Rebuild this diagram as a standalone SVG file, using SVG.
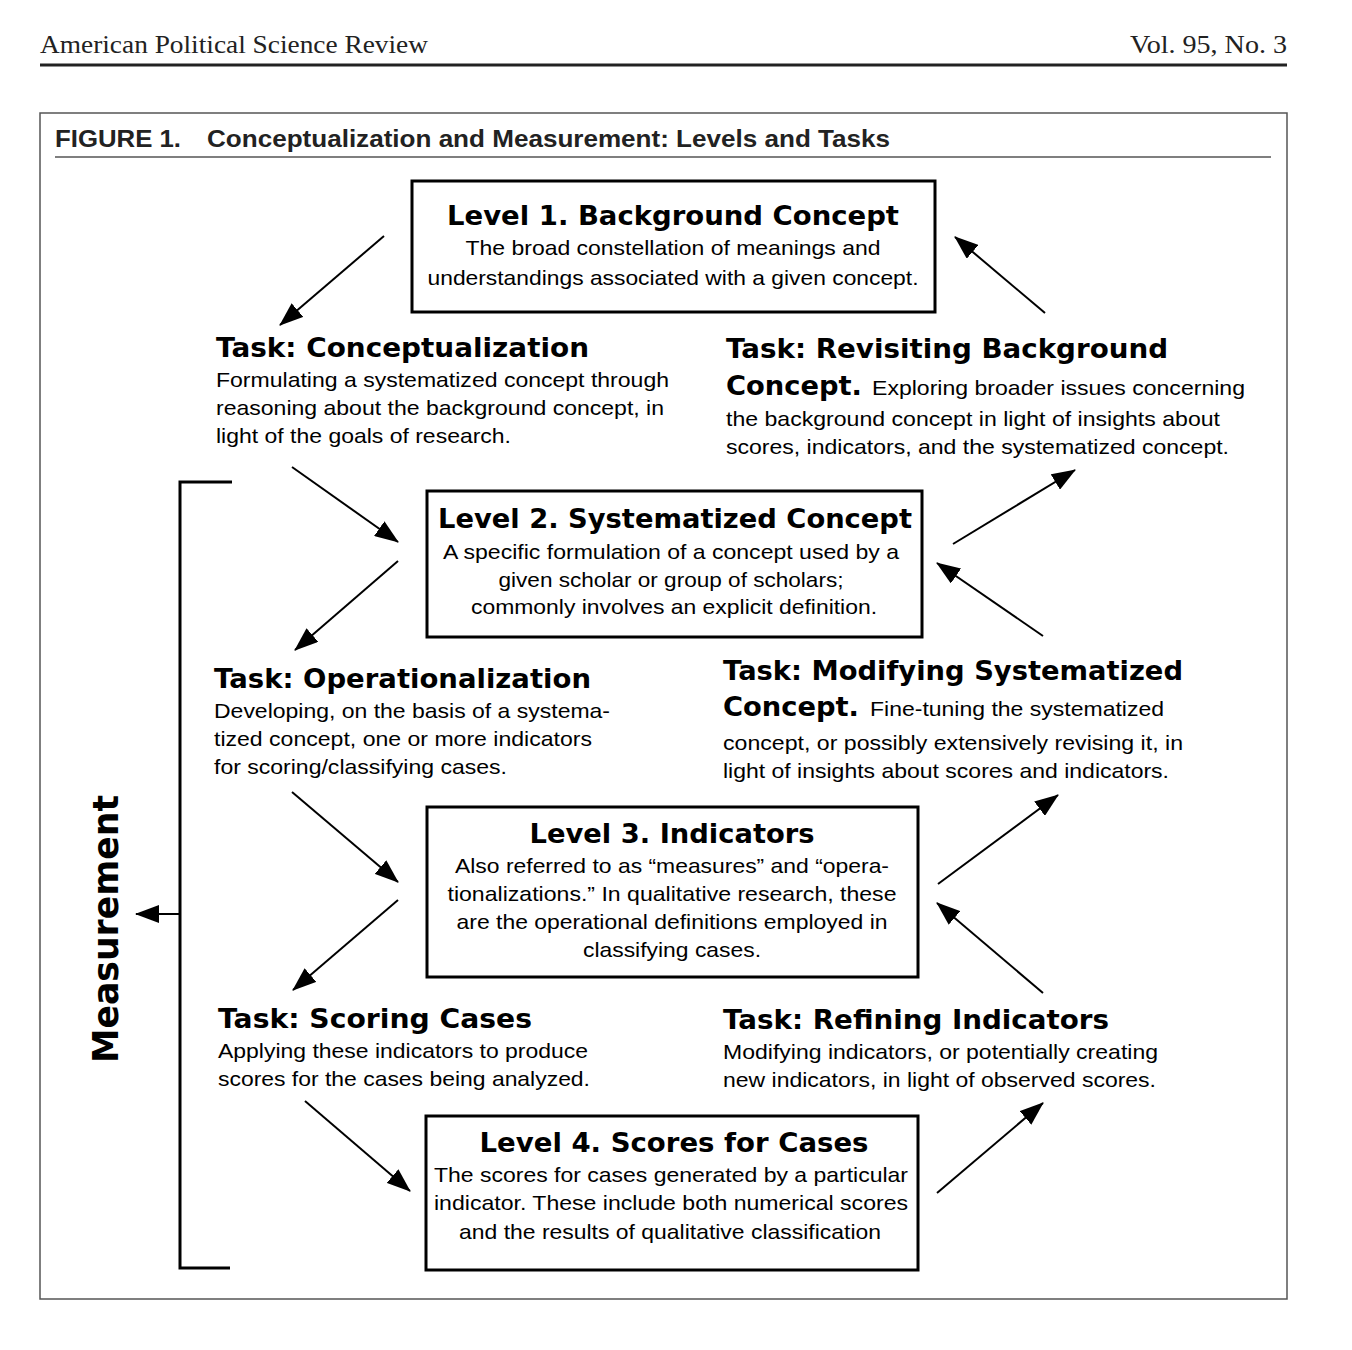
<svg xmlns="http://www.w3.org/2000/svg" width="1352" height="1350" viewBox="0 0 1352 1350">
<style>
.hdr{font-family:"Liberation Serif",serif;font-size:25px;fill:#222}
.ftitle{font-family:"Liberation Sans",Arial,sans-serif;font-size:24px;font-weight:bold;fill:#222}
.lt{font-family:"DejaVu Sans","Liberation Sans",sans-serif;font-size:27px;font-weight:bold;fill:#000;text-anchor:middle}
.tt{font-family:"DejaVu Sans","Liberation Sans",sans-serif;font-size:27px;font-weight:bold;fill:#000}
.bd{font-family:"Liberation Sans",Arial,sans-serif;font-size:21px;fill:#000}
.bc{font-family:"Liberation Sans",Arial,sans-serif;font-size:21px;fill:#000;text-anchor:middle}
.box{fill:#fff;stroke:#000;stroke-width:3}
.arr{stroke:#000;stroke-width:2;fill:none;marker-end:url(#ah)}
</style>
<defs>
<marker id="ah" markerUnits="userSpaceOnUse" markerWidth="24" markerHeight="18" refX="23" refY="9" orient="auto">
<path d="M0,0 L24,9 L0,18 z" fill="#000"/>
</marker>
</defs>
<rect width="1352" height="1350" fill="#fff"/>
<g id="header">
<text class="hdr" x="40" y="53" textLength="388" lengthAdjust="spacingAndGlyphs">American Political Science Review</text>
<text class="hdr" x="1130" y="53" textLength="157" lengthAdjust="spacingAndGlyphs">Vol. 95, No. 3</text>
<line x1="40" y1="65" x2="1287" y2="65" stroke="#222" stroke-width="3"/>
</g>
<g id="frame">
<rect x="40" y="113" width="1247" height="1186" fill="none" stroke="#555" stroke-width="1.5"/>
<text class="ftitle" x="55" y="147" textLength="126" lengthAdjust="spacingAndGlyphs">FIGURE 1.</text>
<text class="ftitle" x="207" y="147" textLength="683" lengthAdjust="spacingAndGlyphs">Conceptualization and Measurement: Levels and Tasks</text>
<line x1="55" y1="157" x2="1271" y2="157" stroke="#555" stroke-width="1.5"/>
</g>
<g id="level1">
<rect class="box" x="412" y="181" width="523" height="131"/>
<text class="lt" x="673" y="225" textLength="452" lengthAdjust="spacingAndGlyphs">Level 1. Background Concept</text>
<text class="bc" x="673" y="255" textLength="415" lengthAdjust="spacingAndGlyphs">The broad constellation of meanings and</text>
<text class="bc" x="673" y="285" textLength="491" lengthAdjust="spacingAndGlyphs">understandings associated with a given concept.</text>
</g>
<g id="task-conceptualization">
<text class="tt" x="216" y="357" textLength="373" lengthAdjust="spacingAndGlyphs">Task: Conceptualization</text>
<text class="bd" x="216" y="387" textLength="453" lengthAdjust="spacingAndGlyphs">Formulating a systematized concept through</text>
<text class="bd" x="216" y="415" textLength="448" lengthAdjust="spacingAndGlyphs">reasoning about the background concept, in</text>
<text class="bd" x="216" y="443" textLength="295" lengthAdjust="spacingAndGlyphs">light of the goals of research.</text>
</g>
<g id="task-revisiting">
<text class="tt" x="726" y="358" textLength="442" lengthAdjust="spacingAndGlyphs">Task: Revisiting Background</text>
<text class="tt" x="726" y="395" textLength="136" lengthAdjust="spacingAndGlyphs">Concept.</text>
<text class="bd" x="872" y="395" textLength="373" lengthAdjust="spacingAndGlyphs">Exploring broader issues concerning</text>
<text class="bd" x="726" y="426" textLength="494" lengthAdjust="spacingAndGlyphs">the background concept in light of insights about</text>
<text class="bd" x="726" y="454" textLength="503" lengthAdjust="spacingAndGlyphs">scores, indicators, and the systematized concept.</text>
</g>
<g id="level2">
<rect class="box" x="427" y="491" width="495" height="146"/>
<text class="lt" x="675" y="528" textLength="474" lengthAdjust="spacingAndGlyphs">Level 2. Systematized Concept</text>
<text class="bc" x="671" y="559" textLength="456" lengthAdjust="spacingAndGlyphs">A specific formulation of a concept used by a</text>
<text class="bc" x="671" y="587" textLength="345" lengthAdjust="spacingAndGlyphs">given scholar or group of scholars;</text>
<text class="bc" x="674" y="614" textLength="406" lengthAdjust="spacingAndGlyphs">commonly involves an explicit definition.</text>
</g>
<g id="task-operationalization">
<text class="tt" x="214" y="688" textLength="377" lengthAdjust="spacingAndGlyphs">Task: Operationalization</text>
<text class="bd" x="214" y="718" textLength="396" lengthAdjust="spacingAndGlyphs">Developing, on the basis of a systema-</text>
<text class="bd" x="214" y="746" textLength="378" lengthAdjust="spacingAndGlyphs">tized concept, one or more indicators</text>
<text class="bd" x="214" y="774" textLength="293" lengthAdjust="spacingAndGlyphs">for scoring/classifying cases.</text>
</g>
<g id="task-modifying">
<text class="tt" x="723" y="680" textLength="460" lengthAdjust="spacingAndGlyphs">Task: Modifying Systematized</text>
<text class="tt" x="723" y="716" textLength="136" lengthAdjust="spacingAndGlyphs">Concept.</text>
<text class="bd" x="870" y="716" textLength="294" lengthAdjust="spacingAndGlyphs">Fine-tuning the systematized</text>
<text class="bd" x="723" y="750" textLength="460" lengthAdjust="spacingAndGlyphs">concept, or possibly extensively revising it, in</text>
<text class="bd" x="723" y="778" textLength="446" lengthAdjust="spacingAndGlyphs">light of insights about scores and indicators.</text>
</g>
<g id="level3">
<rect class="box" x="427" y="807" width="491" height="170"/>
<text class="lt" x="672" y="843" textLength="285" lengthAdjust="spacingAndGlyphs">Level 3. Indicators</text>
<text class="bc" x="672" y="873" textLength="434" lengthAdjust="spacingAndGlyphs">Also referred to as “measures” and “opera-</text>
<text class="bc" x="672" y="901" textLength="449" lengthAdjust="spacingAndGlyphs">tionalizations.” In qualitative research, these</text>
<text class="bc" x="672" y="929" textLength="431" lengthAdjust="spacingAndGlyphs">are the operational definitions employed in</text>
<text class="bc" x="672" y="957" textLength="178" lengthAdjust="spacingAndGlyphs">classifying cases.</text>
</g>
<g id="task-scoring">
<text class="tt" x="218" y="1028" textLength="314" lengthAdjust="spacingAndGlyphs">Task: Scoring Cases</text>
<text class="bd" x="218" y="1058" textLength="370" lengthAdjust="spacingAndGlyphs">Applying these indicators to produce</text>
<text class="bd" x="218" y="1086" textLength="372" lengthAdjust="spacingAndGlyphs">scores for the cases being analyzed.</text>
</g>
<g id="task-refining">
<text class="tt" x="723" y="1029" textLength="386" lengthAdjust="spacingAndGlyphs">Task: Refining Indicators</text>
<text class="bd" x="723" y="1059" textLength="435" lengthAdjust="spacingAndGlyphs">Modifying indicators, or potentially creating</text>
<text class="bd" x="723" y="1087" textLength="433" lengthAdjust="spacingAndGlyphs">new indicators, in light of observed scores.</text>
</g>
<g id="level4">
<rect class="box" x="426" y="1116" width="492" height="154"/>
<text class="lt" x="674" y="1152" textLength="389" lengthAdjust="spacingAndGlyphs">Level 4. Scores for Cases</text>
<text class="bc" x="671" y="1182" textLength="474" lengthAdjust="spacingAndGlyphs">The scores for cases generated by a particular</text>
<text class="bc" x="671" y="1210" textLength="474" lengthAdjust="spacingAndGlyphs">indicator. These include both numerical scores</text>
<text class="bc" x="670" y="1239" textLength="422" lengthAdjust="spacingAndGlyphs">and the results of qualitative classification</text>
</g>
<g id="measurement">
<path d="M232,482 H180 V1268 H230" fill="none" stroke="#000" stroke-width="3"/>
<text x="0" y="0" transform="translate(118,929) rotate(-90)" text-anchor="middle" font-family="DejaVu Sans, Liberation Sans, sans-serif" font-size="35" font-weight="bold" textLength="268" lengthAdjust="spacingAndGlyphs">Measurement</text>
</g>
<g id="connectors">
<line class="arr" x1="180" y1="914" x2="136" y2="914"/>
<line class="arr" x1="384" y1="236" x2="280" y2="325"/>
<line class="arr" x1="1045" y1="313" x2="955" y2="237"/>
<line class="arr" x1="292" y1="467" x2="398" y2="542"/>
<line class="arr" x1="398" y1="561" x2="295" y2="650"/>
<line class="arr" x1="953" y1="544" x2="1075" y2="470"/>
<line class="arr" x1="1043" y1="636" x2="937" y2="563"/>
<line class="arr" x1="292" y1="792" x2="398" y2="882"/>
<line class="arr" x1="398" y1="900" x2="293" y2="990"/>
<line class="arr" x1="938" y1="884" x2="1058" y2="795"/>
<line class="arr" x1="1043" y1="993" x2="937" y2="903"/>
<line class="arr" x1="305" y1="1101" x2="410" y2="1191"/>
<line class="arr" x1="937" y1="1193" x2="1043" y2="1103"/>
</g>
</svg>
